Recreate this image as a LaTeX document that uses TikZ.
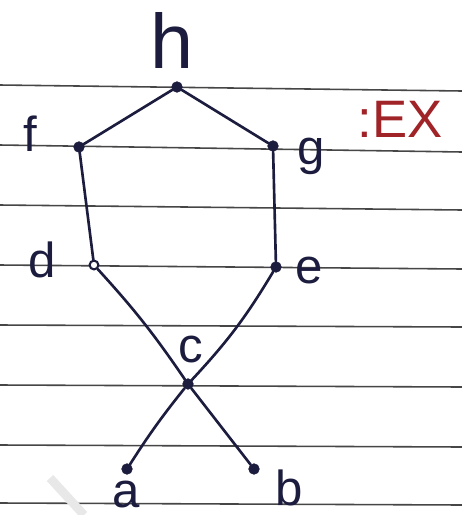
\documentclass[tikz,border=0pt]{standalone}
\usepackage{fontspec}
\setmainfont{Liberation Sans}
\usepackage{tikz}
\usetikzlibrary{calc}
\usepackage{xcolor}
\definecolor{inkcolor}{RGB}{28,28,62}
\definecolor{rulecolor}{RGB}{70,70,70}
\definecolor{excolor}{RGB}{160,35,40}
\definecolor{smudge}{RGB}{232,232,232}

\begin{document}
\begin{tikzpicture}[x=0.02cm, y=-0.02cm,
  vtx/.style={circle, fill=inkcolor, draw=inkcolor, inner sep=0pt, minimum size=6pt},
  lbl/.style={inkcolor, font=\fontsize{28}{30}\selectfont},
  edge/.style={inkcolor, line width=1.5pt, line cap=round}]
  \useasboundingbox (0,0) rectangle (462,515);
  \fill[white] (0,0) rectangle (462,515);
  % Ruled lines of the paper
  \foreach \y/\s in {85/6,145/7,205/5,265/4,325/2,385/2,445/2,503/2}
    \draw[rulecolor, line width=0.9pt] (0,\y) -- (462,\y+\s);
  % Faint stroke at the lower left
  \draw[smudge, line width=5pt] (50,478) -- (84,515);
  % Vertices
  \node[vtx] (h) at (177,87) {};
  \node[vtx] (f) at (79,147) {};
  \node[vtx] (g) at (273,146) {};
  \node[vtx, fill=white, minimum size=5pt, line width=1.2pt] (d) at (94,265) {};
  \node[vtx] (e) at (276,267) {};
  \node[vtx] (c) at (188,384) {};
  \node[vtx] (a) at (127,469) {};
  \node[vtx] (b) at (254,469) {};
  % Labels
  \node[lbl, font=\fontsize{44}{46}\selectfont] (hl) at (172,40) {h};
  \node[lbl] (fl) at (30,134) {f};
  \node[lbl] (gl) at (311,156) {g};
  \node[lbl] (dl) at (42,260) {d};
  \node[lbl] (el) at (309,270) {e};
  \node[lbl] (cl) at (191,349) {c};
  \node[lbl] (al) at (126,494) {a};
  \node[lbl] (bl) at (289,488) {b};
  % Example mark
  \node[excolor, font=\fontsize{30}{32}\selectfont] (ex) at (400,119) {:EX};
  % Covering relations
  \draw[edge] (h) -- (f);
  \draw[edge] (h) -- (g);
  \draw[edge] (f) -- (d);
  \draw[edge] (g) -- (e);
  \draw[edge] (d) to[bend left=4] (c);
  \draw[edge] (c) -- (b);
  \draw[edge] (e) to[bend left=6] (c);
  \draw[edge] (c) to[bend right=3] (a);
\end{tikzpicture}
\end{document}
